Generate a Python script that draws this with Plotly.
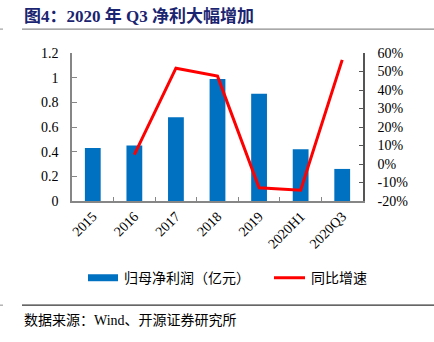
import plotly.graph_objects as go

categories = ["2015", "2016", "2017", "2018", "2019", "2020H1", "2020Q3"]
profit = [0.43, 0.45, 0.68, 0.99, 0.87, 0.42, 0.26]
growth_cats = ["2016", "2017", "2018", "2019", "2020H1", "2020Q3"]
growth = [5.1, 51.8, 47.5, -12.9, -14.2, 56.3]
left_ticks = [0, 0.2, 0.4, 0.6, 0.8, 1.0, 1.2]
left_labels = ["0", "0.2", "0.4", "0.6", "0.8", "1", "1.2"]
right_ticks = [-20, -10, 0, 10, 20, 30, 40, 50, 60]
right_labels = ["-20%", "-10%", "0%", "10%", "20%", "30%", "40%", "50%", "60%"]

SERIF = "Liberation Serif, Times New Roman, Noto Sans CJK SC, serif"
CJK = "Liberation Serif, Noto Sans CJK SC, sans-serif"

fig = go.Figure()
fig.add_trace(go.Bar(x=categories, y=profit, name="归母净利润（亿元）",
                     marker=dict(color="#0070C0", line=dict(width=0)),
                     width=0.38, yaxis="y"))
fig.add_trace(go.Scatter(x=growth_cats, y=growth, name="同比增速", mode="lines",
                         line=dict(color="#FF0000", width=3), yaxis="y2"))

W, H = 434, 342
L, R, T, B = 72, 71, 53, 140.5

axis_col = "#868686"
fig.update_layout(
    width=W, height=H,
    margin=dict(l=L, r=R, t=T, b=B),
    paper_bgcolor="white", plot_bgcolor="white",
    showlegend=False,
    font=dict(family=SERIF, size=14, color="#000000"),
    xaxis=dict(type="category", showline=True, linecolor=axis_col, linewidth=1.5,
               ticks="inside", ticklen=4, tickcolor=axis_col, tickson="boundaries",
               tickangle=-45, tickfont=dict(family=SERIF, size=14, color="#000"),
               showgrid=False, zeroline=False, range=[-0.5, 6.5]),
    yaxis=dict(range=[0, 1.2], tickvals=left_ticks, ticktext=left_labels,
               showline=True, linecolor=axis_col, linewidth=1.5,
               ticks="inside", ticklen=5, tickcolor=axis_col,
               showgrid=False, zeroline=False, ticklabelstandoff=9,
               tickfont=dict(family=SERIF, size=14, color="#000")),
    yaxis2=dict(range=[-20, 60], tickvals=right_ticks, ticktext=right_labels,
                overlaying="y", side="right",
                showline=True, linecolor="#555555", linewidth=1.5,
                ticks="inside", ticklen=4, tickcolor="#555555",
                showgrid=False, zeroline=False, ticklabelstandoff=10,
                tickfont=dict(family=SERIF, size=14, color="#000")),
)

def px_x(x):
    return (x - L) / (W - L - R)

def px_y(y):
    return 1 - (y - T) / (H - T - B)

shapes = []
# title rule
shapes.append(dict(type="line", xref="paper", yref="paper", x0=px_x(22), x1=px_x(434),
                   y0=px_y(29), y1=px_y(29), line=dict(color="#8c8c8c", width=1.2)))
shapes.append(dict(type="line", xref="paper", yref="paper", x0=px_x(0), x1=px_x(3),
                   y0=px_y(29), y1=px_y(29), line=dict(color="#8c8c8c", width=1)))
# bottom rule
shapes.append(dict(type="line", xref="paper", yref="paper", x0=px_x(22), x1=px_x(434),
                   y0=px_y(306), y1=px_y(306), line=dict(color="#333333", width=1.2)))
shapes.append(dict(type="line", xref="paper", yref="paper", x0=px_x(0), x1=px_x(3),
                   y0=px_y(306), y1=px_y(306), line=dict(color="#8c8c8c", width=1)))
# legend symbols
shapes.append(dict(type="rect", xref="paper", yref="paper", x0=px_x(88), x1=px_x(118),
                   y0=px_y(282), y1=px_y(275), fillcolor="#0070C0", line=dict(width=0)))
shapes.append(dict(type="line", xref="paper", yref="paper", x0=px_x(274), x1=px_x(305),
                   y0=px_y(278.5), y1=px_y(278.5), line=dict(color="#FF0000", width=3)))

annotations = []
annotations.append(dict(text="<b>图4：2020 年 Q3 净利大幅增加</b>", xref="paper", yref="paper",
                        x=px_x(22), y=px_y(16), xanchor="left", yanchor="middle",
                        showarrow=False, font=dict(family=CJK, size=17, color="#1a2470")))
annotations.append(dict(text="归母净利润（亿元）", xref="paper", yref="paper",
                        x=px_x(122), y=px_y(279), xanchor="left", yanchor="middle",
                        showarrow=False, font=dict(family=CJK, size=14, color="#000")))
annotations.append(dict(text="同比增速", xref="paper", yref="paper",
                        x=px_x(309), y=px_y(279), xanchor="left", yanchor="middle",
                        showarrow=False, font=dict(family=CJK, size=14, color="#000")))
annotations.append(dict(text="数据来源：Wind、开源证券研究所", xref="paper", yref="paper",
                        x=px_x(22), y=px_y(321), xanchor="left", yanchor="middle",
                        showarrow=False, font=dict(family=CJK, size=14, color="#000")))

fig.update_layout(shapes=shapes, annotations=annotations)
fig.write_html("out.html")
